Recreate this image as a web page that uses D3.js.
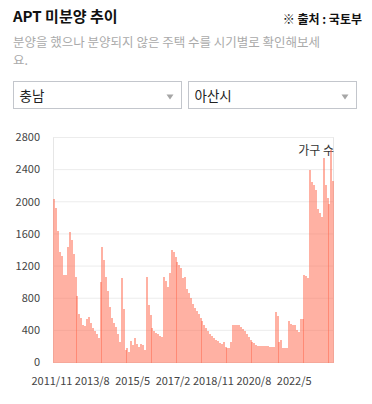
<!DOCTYPE html>
<html>
<head>
<meta charset="utf-8">
<script src="https://cdn.jsdelivr.net/npm/d3@7"></script>
<style>
  html, body { margin: 0; padding: 0; background: #fff; }
  svg { display: block; font-family: "Noto Sans CJK KR", "Noto Sans", sans-serif; }
</style>
</head>
<body>
<svg id="chart" width="372" height="404"></svg>
<script>
// 충남 아산시 APT 미분양 (월별, 2011/11 ~ 2023/12)
const startYear = 2011, startMonth = 11;
const units = [
  2040, 1920, 1640, 1380, 1320, 1090, 1090, 1440, 1620, 1530,
  1350, 1070, 830, 600, 550, 470, 460, 540, 570, 490,
  430, 390, 350, 300, 1000, 1440, 1280, 1070, 890, 690,
  550, 490, 440, 350, 250, 1050, 660, 160, 180, 135,
  270, 220, 310, 235, 195, 235, 220, 150, 1060, 720,
  585, 435, 390, 370, 355, 330, 320, 1070, 1020, 935,
  1120, 1395, 1370, 1310, 1250, 1210, 1170, 1055, 1070, 920,
  865, 800, 730, 680, 640, 600, 560, 515, 470, 430,
  390, 355, 330, 305, 285, 265, 245, 235, 255, 195,
  180, 180, 255, 470, 470, 470, 470, 445, 420, 390,
  355, 320, 285, 260, 240, 220, 205, 205, 205, 205,
  205, 205, 195, 195, 195, 630, 580, 250, 280, 180,
  180, 180, 515, 485, 465, 465, 405, 380, 540, 540,
  1090, 1075, 1050, 2395, 2245, 2210, 2145, 1910, 1860, 1810,
  2545, 2205, 2045, 1975, 2645, 2255
];
const months = units.map((v, i) => {
  const m = startMonth - 1 + i;
  return `${startYear + Math.floor(m / 12)}/${(m % 12) + 1}`;
});
const yTicks = [0, 400, 800, 1200, 1600, 2000, 2400, 2800];
const xTickLabels = ["2011/11", "2013/8", "2015/5", "2017/2", "2018/11", "2020/8", "2022/5"];

const svg = d3.select("#chart");

// header
svg.append("text").attr("x", 13).attr("y", 22)
  .attr("font-size", 15).attr("font-weight", 700).attr("fill", "#111")
  .text("APT 미분양 추이");
svg.append("text").attr("x", 362).attr("y", 24).attr("text-anchor", "end")
  .attr("font-size", 12).attr("font-weight", 700).attr("fill", "#111")
  .text("※ 출처 : 국토부");
const sub = svg.append("text").attr("font-size", 12.5).attr("fill", "#aaa");
sub.append("tspan").attr("x", 13).attr("y", 47).text("분양을 했으나 분양되지 않은 주택 수를 시기별로 확인해보세");
sub.append("tspan").attr("x", 13).attr("y", 65.3).text("요.");

// select boxes
const selects = [{ label: "충남", x: 13.5 }, { label: "아산시", x: 188.5 }];
const sel = svg.append("g").selectAll("g").data(selects).join("g")
  .attr("transform", d => `translate(${d.x},81.5)`);
sel.append("rect").attr("width", 168).attr("height", 27)
  .attr("fill", "#fff").attr("stroke", "#c3c6cc");
sel.append("text").attr("x", 6).attr("y", 19).attr("font-size", 13.5).attr("fill", "#222")
  .text(d => d.label);
sel.append("path").attr("d", "M153,13 L160,13 L156.5,18 Z").attr("fill", "#a6a6a6");

// chart
const x = d3.scaleBand().domain(d3.range(units.length)).range([53.4, 334.2]).padding(0);
const y = d3.scaleLinear().domain([0, 2800]).range([362.5, 137.5]);

svg.append("g").selectAll("line").data(yTicks).join("line")
  .attr("x1", 53).attr("x2", 334)
  .attr("y1", d => y(d)).attr("y2", d => y(d))
  .attr("stroke", "#ececec");
svg.append("line").attr("x1", 53.5).attr("x2", 53.5).attr("y1", 137.5).attr("y2", 362.5).attr("stroke", "#e6e6e6");
svg.append("line").attr("x1", 333.5).attr("x2", 333.5).attr("y1", 137.5).attr("y2", 362.5).attr("stroke", "#e6e6e6");

svg.append("text").attr("x", 334).attr("y", 155).attr("text-anchor", "end")
  .attr("font-size", 12).attr("fill", "#333").text("가구 수");

svg.append("g").attr("shape-rendering", "crispEdges")
  .selectAll("rect").data(units).join("rect")
  .attr("x", (d, i) => x(i))
  .attr("width", 2)
  .attr("y", d => y(d))
  .attr("height", d => y(0) - y(d))
  .attr("fill", "tomato")
  .attr("fill-opacity", 0.5);

svg.append("g").selectAll("text").data(yTicks).join("text")
  .attr("x", 40).attr("y", d => y(d)).attr("dy", "0.35em")
  .attr("text-anchor", "end").attr("font-size", 11).attr("fill", "#444")
  .text(d => d);

svg.append("g").selectAll("text").data(xTickLabels).join("text")
  .attr("x", d => x(months.indexOf(d)) - 1.5).attr("y", 385)
  .attr("text-anchor", "middle").attr("font-size", 11).attr("fill", "#444")
  .text(d => d);
</script>
</body>
</html>
